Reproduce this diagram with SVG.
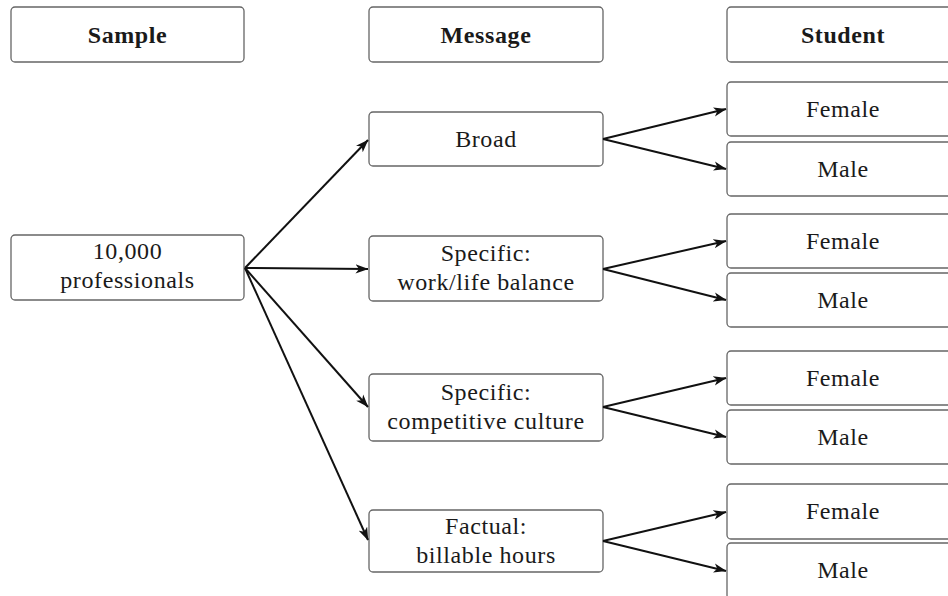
<svg xmlns="http://www.w3.org/2000/svg" width="948" height="596" viewBox="0 0 948 596">
<defs>
<style>
.box{fill:#fff;stroke:#666;stroke-width:1.3}
.t{font-family:"Liberation Serif","Times New Roman",serif;font-size:24px;fill:#1a1a1a;text-anchor:middle;letter-spacing:0.6px}
.b{font-weight:bold}
.c{fill:none;stroke:#111;stroke-width:2}
</style>
<marker id="ah" viewBox="0 0 13 10" refX="12.5" refY="5" markerWidth="13" markerHeight="10" markerUnits="userSpaceOnUse" orient="auto">
<path d="M0,0.3 L13,5 L0,9.7 L3.5,5 Z" fill="#111"/>
</marker>
</defs>
<rect width="948" height="596" fill="#fff"/>
<g id="hdr-sample"><rect class="box" x="11" y="7" width="233" height="55" rx="4"/><text class="t b" x="127.5" y="43">Sample</text></g>
<g id="hdr-message"><rect class="box" x="369" y="7" width="234" height="55" rx="4"/><text class="t b" x="486" y="43">Message</text></g>
<g id="hdr-student"><rect class="box" x="727" y="7" width="240" height="55" rx="4"/><text class="t b" x="843" y="43">Student</text></g>

<g id="sample"><rect class="box" x="11" y="235" width="233" height="65" rx="4"/><text class="t" x="127.5" y="259">10,000</text><text class="t" x="127.5" y="288">professionals</text></g>

<g id="broad"><rect class="box" x="369" y="112" width="234" height="54" rx="4"/><text class="t" x="486" y="147">Broad</text></g>
<g id="worklife"><rect class="box" x="369" y="236" width="234" height="65" rx="4"/><text class="t" x="486" y="261">Specific:</text><text class="t" x="486" y="290">work/life balance</text></g>
<g id="competitive"><rect class="box" x="369" y="374" width="234" height="67" rx="4"/><text class="t" x="486" y="400">Specific:</text><text class="t" x="486" y="429">competitive culture</text></g>
<g id="factual"><rect class="box" x="369" y="510" width="234" height="62" rx="4"/><text class="t" x="486" y="534">Factual:</text><text class="t" x="486" y="563">billable hours</text></g>

<g id="f1"><rect class="box" x="727" y="82" width="240" height="54" rx="4"/><text class="t" x="843" y="117">Female</text></g>
<g id="m1"><rect class="box" x="727" y="142" width="240" height="54" rx="4"/><text class="t" x="843" y="177">Male</text></g>
<g id="f2"><rect class="box" x="727" y="214" width="240" height="54" rx="4"/><text class="t" x="843" y="249">Female</text></g>
<g id="m2"><rect class="box" x="727" y="273" width="240" height="54" rx="4"/><text class="t" x="843" y="308">Male</text></g>
<g id="f3"><rect class="box" x="727" y="351" width="240" height="54" rx="4"/><text class="t" x="843" y="386">Female</text></g>
<g id="m3"><rect class="box" x="727" y="410" width="240" height="54" rx="4"/><text class="t" x="843" y="445">Male</text></g>
<g id="f4"><rect class="box" x="727" y="484" width="240" height="55" rx="4"/><text class="t" x="843" y="519">Female</text></g>
<g id="m4"><rect class="box" x="727" y="543" width="240" height="56" rx="4"/><text class="t" x="843" y="578">Male</text></g>

<g id="connectors">
<path class="c" marker-end="url(#ah)" d="M245,268 L368,140"/>
<path class="c" marker-end="url(#ah)" d="M245,268 L368,269"/>
<path class="c" marker-end="url(#ah)" d="M245,268 L368,407"/>
<path class="c" marker-end="url(#ah)" d="M245,268 L368,540"/>
<path class="c" marker-end="url(#ah)" d="M603,139 L726,109"/>
<path class="c" marker-end="url(#ah)" d="M603,139 L726,169"/>
<path class="c" marker-end="url(#ah)" d="M603,269 L726,241"/>
<path class="c" marker-end="url(#ah)" d="M603,269 L726,300"/>
<path class="c" marker-end="url(#ah)" d="M603,407 L726,378"/>
<path class="c" marker-end="url(#ah)" d="M603,407 L726,437"/>
<path class="c" marker-end="url(#ah)" d="M603,541 L726,512"/>
<path class="c" marker-end="url(#ah)" d="M603,541 L726,571"/>
</g>
</svg>
